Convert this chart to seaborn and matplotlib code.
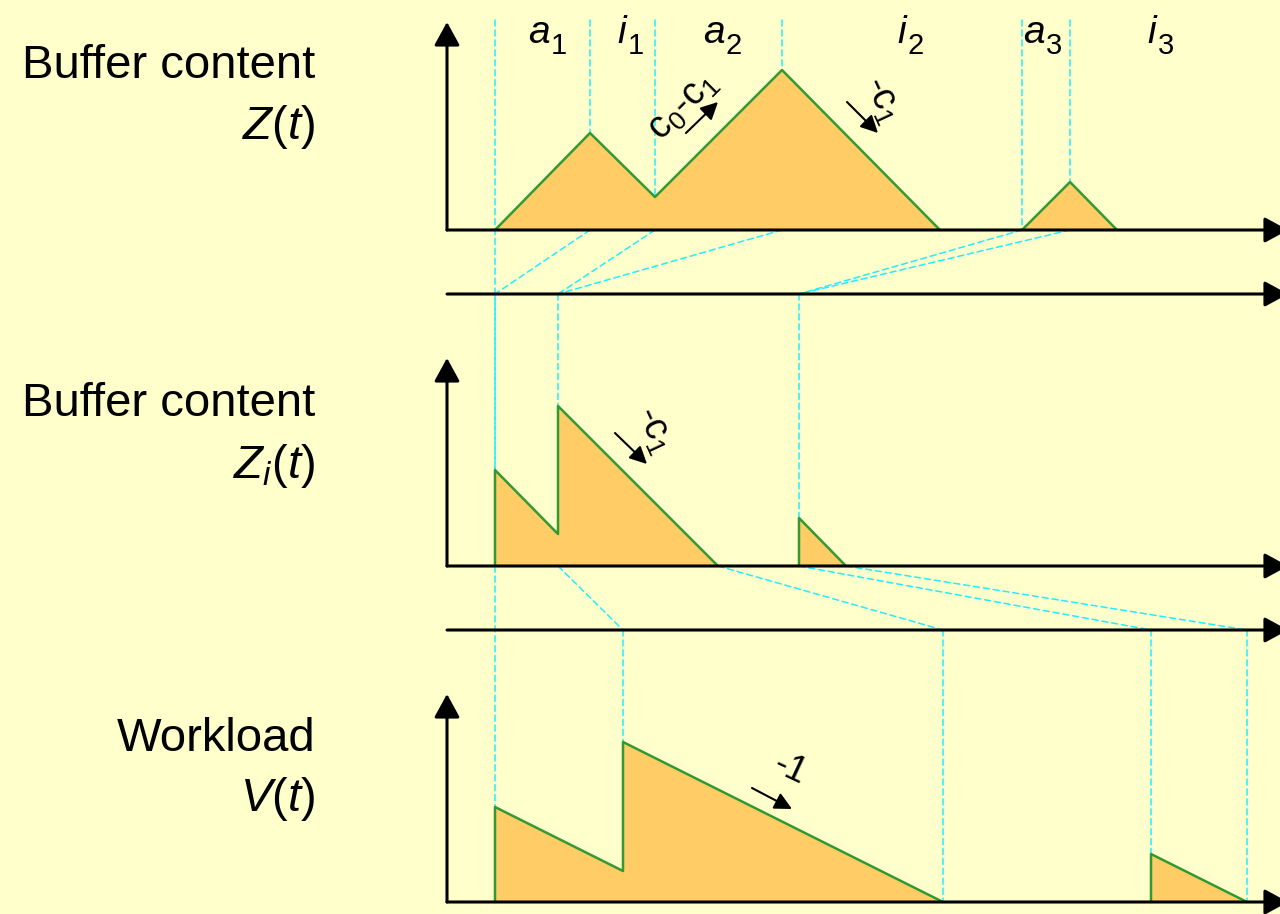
import matplotlib
matplotlib.use('Agg')
from matplotlib import pyplot as plt
from matplotlib.patches import ConnectionPatch
import pandas as pd
import seaborn as sns

# Data: time measured from the vertical axis, heights in the same units
z_t = [48, 143, 208, 335, 493]
z_v = [0, 97, 33, 160, 0]
z2_t = [575, 623, 670]
z2_v = [0, 48, 0]

zi_t = [48, 48, 111, 111, 271]
zi_v = [0, 96, 32, 160, 0]
zi2_t = [352, 352, 399]
zi2_v = [0, 48, 0]

v_t = [48, 48, 176, 176, 496]
v_v = [0, 95, 31, 160, 0]
v2_t = [704, 704, 800]
v2_v = [0, 48, 0]

# on / off periods of the source (letter, index, position)
period_letters = ['a', 'i', 'a', 'i', 'a', 'i']
period_index = ['1', '1', '2', '2', '3', '3']
period_pos = [103, 180, 278, 460, 598, 710]
switch_t = [143, 208, 335, 575, 623]

# mapping of instants between the time lines
line1_src = [143, 208, 335, 575, 623]
line1_dst = [48, 111, 111, 352, 352]
line2_src = [111, 271, 352, 399]
line2_dst = [176, 496, 704, 800]

# Styling
BG = '#FFFFCC'
FILL = '#FFCC66'
GREEN = '#339933'
CYAN = '#22EEFF'
DASH = (0, (4, 2.5))

sns.set_style('white')
plt.rcParams['font.family'] = ['Liberation Sans', 'DejaVu Sans']
plt.rcParams['text.color'] = 'black'
plt.rcParams['mathtext.fontset'] = 'custom'
plt.rcParams['mathtext.rm'] = 'Liberation Sans'
plt.rcParams['mathtext.it'] = 'Liberation Sans:italic'

W, H = 1280, 914
X0 = 447
fig = plt.figure(figsize=(W / 100, H / 100), dpi=100, facecolor=BG)


def panel(base, top):
    ax = fig.add_axes([X0 / W, (H - base) / H, (W - X0) / W, (base - top) / H])
    ax.set_xlim(0, W - X0)
    ax.set_ylim(0, base - top)
    ax.set_axis_off()
    return ax


ax_z = panel(230, 20)
ax_l1 = panel(294, 284)
ax_zi = panel(566, 356)
ax_l2 = panel(630, 620)
ax_v = panel(902, 692)

axis_arrow = dict(arrowstyle='-|>,head_length=0.55,head_width=0.3', mutation_scale=26,
                  lw=2.2, color='black', shrinkA=0, shrinkB=0)
small_arrow = dict(arrowstyle='-|>,head_length=0.8,head_width=0.4', mutation_scale=13,
                   lw=1.5, color='black', shrinkA=0, shrinkB=0)


def draw_axes(ax, with_y=True):
    ax.annotate('', xy=(W - X0 + 8, 0), xytext=(0, 0), arrowprops=axis_arrow,
                annotation_clip=False, zorder=5)
    if with_y:
        ax.annotate('', xy=(0, 208), xytext=(0, 0), arrowprops=axis_arrow,
                    annotation_clip=False, zorder=5)


def draw_curve(ax, pieces):
    frames = []
    for k, (t, v) in enumerate(pieces):
        ax.fill_between(t, v, 0, color=FILL, lw=0, zorder=1)
        frames.append(pd.DataFrame({'t': t, 'v': v, 'seg': k}))
    df = pd.concat(frames, ignore_index=True)
    sns.lineplot(data=df, x='t', y='v', units='seg', estimator=None, sort=False,
                 color=GREEN, lw=1.8, legend=False, ax=ax, zorder=3)
    ax.set_axis_off()


draw_curve(ax_z, [(z_t, z_v), (z2_t, z2_v)])
draw_curve(ax_zi, [(zi_t, zi_v), (zi2_t, zi2_v)])
draw_curve(ax_v, [(v_t, v_v), (v2_t, v2_v)])

for ax in (ax_z, ax_zi, ax_v):
    draw_axes(ax)
for ax in (ax_l1, ax_l2):
    draw_axes(ax, with_y=False)


def dashed(xyA, axA, xyB, axB):
    con = ConnectionPatch(xyA=xyA, coordsA=axA.transData, xyB=xyB, coordsB=axB.transData,
                          color=CYAN, lw=1.1, linestyle=DASH, zorder=-1)
    fig.add_artist(con)


# long guide of the first arrival
dashed((z_t[0], 210), ax_z, (z_t[0], 0), ax_v)
# guides of on/off instants in the top panel
for t in switch_t:
    dashed((t, 210), ax_z, (t, 0), ax_z)
# mapping to the first time line and drops to Z_i(t)
for s, d in zip(line1_src, line1_dst):
    dashed((s, 0), ax_z, (d, 0), ax_l1)
for d in sorted(set(line1_dst)):
    dashed((d, 0), ax_l1, (d, 0), ax_zi)
# mapping to the second time line and drops to V(t)
for s, d in zip(line2_src, line2_dst):
    dashed((s, 0), ax_zi, (d, 0), ax_l2)
for d in line2_dst:
    dashed((d, 0), ax_l2, (d, 0), ax_v)

# period labels: italic letter with a large subscript
for let, idx, t in zip(period_letters, period_index, period_pos):
    ax_z.annotate(let, xy=(t, 187), xytext=(-0.5, 0), textcoords='offset points',
                  fontsize=28, style='italic', ha='right', va='baseline')
    ax_z.annotate(idx, xy=(t, 187), xytext=(0.5, -8), textcoords='offset points',
                  fontsize=21, ha='left', va='baseline')

# slope annotations
ax_z.annotate('', xy=(271, 128), xytext=(239, 97), arrowprops=small_arrow, zorder=5)
ax_z.text(236, 124, 'c$_0$-c$_1$', fontsize=27, rotation=45, ha='center', va='center',
          rotation_mode='anchor')
ax_z.annotate('', xy=(431, 97), xytext=(400, 128), arrowprops=small_arrow, zorder=5)
ax_z.text(435, 130, '-c$_1$', fontsize=27, rotation=-65, ha='center', va='center',
          rotation_mode='anchor')
ax_zi.annotate('', xy=(200, 102), xytext=(168, 133), arrowprops=small_arrow, zorder=5)
ax_zi.text(207, 136, '-c$_1$', fontsize=27, rotation=-65, ha='center', va='center',
           rotation_mode='anchor')
ax_v.annotate('', xy=(345, 93), xytext=(305, 114), arrowprops=small_arrow, zorder=5)
ax_v.text(343, 133, '-1', fontsize=26, rotation=-25, ha='center', va='center',
          rotation_mode='anchor')

# left side titles
side_titles = [('Buffer content', 78), ('$Z(t)$', 139),
               ('Buffer content', 416), ('$Z_i(t)$', 478),
               ('Workload', 751), ('$V(t)$', 811)]
for txt, y in side_titles:
    fig.text(315 / W, 1 - y / H, txt, fontsize=34, ha='right', va='baseline')

fig.savefig('out.png', dpi=100, facecolor=BG)
